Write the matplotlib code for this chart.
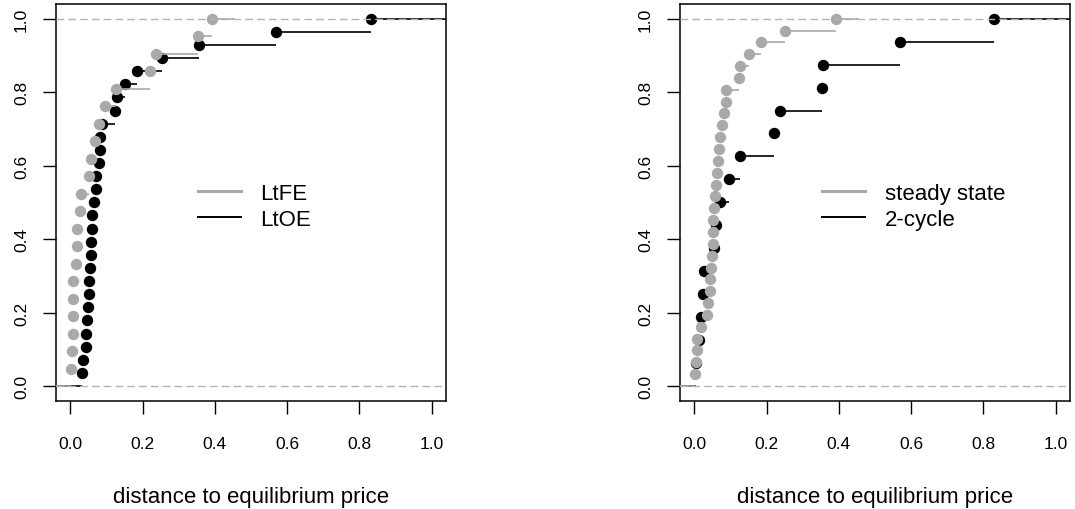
import numpy as np
import matplotlib.pyplot as plt

plt.rcParams['font.family'] = ['Liberation Sans', 'DejaVu Sans']

# distances
ltfe = [0.002, 0.003, 0.006, 0.007, 0.007, 0.008, 0.015, 0.017, 0.018, 0.027,
        0.029, 0.052, 0.058, 0.067, 0.080, 0.095, 0.126, 0.220, 0.236, 0.354,
        0.392]
ltoe = [0.033, 0.035, 0.042, 0.044, 0.047, 0.049, 0.051, 0.052, 0.053, 0.056,
        0.058, 0.059, 0.061, 0.065, 0.070, 0.072, 0.080, 0.081, 0.083, 0.086,
        0.123, 0.130, 0.152, 0.183, 0.254, 0.357, 0.570, 0.831]
steady = [0.001, 0.005, 0.007, 0.008, 0.017, 0.035, 0.038, 0.042, 0.044, 0.047,
          0.049, 0.050, 0.051, 0.052, 0.055, 0.058, 0.061, 0.063, 0.065, 0.067,
          0.072, 0.075, 0.083, 0.086, 0.088, 0.123, 0.127, 0.150, 0.185, 0.252,
          0.392]
cycle2 = [0.004, 0.013, 0.017, 0.024, 0.027, 0.055, 0.061, 0.072, 0.095, 0.125,
          0.219, 0.236, 0.353, 0.356, 0.568, 0.830]

panels = [(["LtFE", "LtOE"], ltfe, ltoe),
          (["steady state", "2-cycle"], steady, cycle2)]
ticks = [0.0, 0.2, 0.4, 0.6, 0.8, 1.0]
xlabel = "distance to equilibrium price"

GRAY = "#a9a9a9"
LINE01 = "#b3b3b3"


def ecdf_plot(ax, data, color, xlim=None, z=2):
    # mimic R's plot.ecdf(verticals=FALSE)
    x = np.sort(np.asarray(data, float))
    n = len(x)
    y = np.arange(1, n + 1) / n
    if xlim is None:
        dr = max(0.08 * (x[-1] - x[0]), np.median(np.diff(x)))
        lo, hi = x[0] - 2 * dr, x[-1] + 2 * dr
    else:
        dr = xlim[1] - xlim[0]
        lo, hi = xlim[0] - dr, xlim[1] + dr
    ti = np.concatenate([[lo], x, [hi]])
    fy = np.concatenate([[0], y])
    ax.hlines(fy, ti[:-1], ti[1:], colors=color, lw=1.2, zorder=z)
    ax.plot(x, y, 'o', color=color, ms=8.2, mew=0, zorder=z)


fig = plt.figure(figsize=(10.75, 5.10), dpi=100)
lefts = [56 / 1075, 680 / 1075]

for left, (labels, grey_data, black_data) in zip(lefts, panels):
    ax = fig.add_axes([left, 108.3 / 510, 390 / 1075, 396.7 / 510])
    ecdf_plot(ax, black_data, "black", xlim=(0, 1), z=2)
    ecdf_plot(ax, grey_data, GRAY, z=3)
    for h in (0, 1):
        ax.axhline(h, color=LINE01, lw=1.0, ls=(0, (5.5, 3)), zorder=5)

    ax.set_xlim(-0.04, 1.04)
    ax.set_ylim(-0.04, 1.04)
    ax.set_xticks(ticks)
    ax.set_yticks(ticks)
    ax.set_xticklabels(["%.1f" % t for t in ticks])
    ax.set_yticklabels(["%.1f" % t for t in ticks], rotation=90, va="center")
    ax.tick_params(length=9.4, width=1.0, labelsize=12.5)
    ax.tick_params(axis="x", pad=16)
    ax.tick_params(axis="y", pad=10)
    for s in ax.spines.values():
        s.set_linewidth(1.1)
    ax.set_xlabel(xlabel, fontsize=16, labelpad=25)

    handles = [plt.Line2D([], [], color=GRAY, lw=2.2),
               plt.Line2D([], [], color="black", lw=1.4)]
    ax.legend(handles, labels, loc="center left", bbox_to_anchor=(0.365, 0.49),
              frameon=False, fontsize=16, handlelength=1.9, handletextpad=0.9,
              labelspacing=0.2, borderpad=0, borderaxespad=0)

fig.savefig("out.png", dpi=100)
